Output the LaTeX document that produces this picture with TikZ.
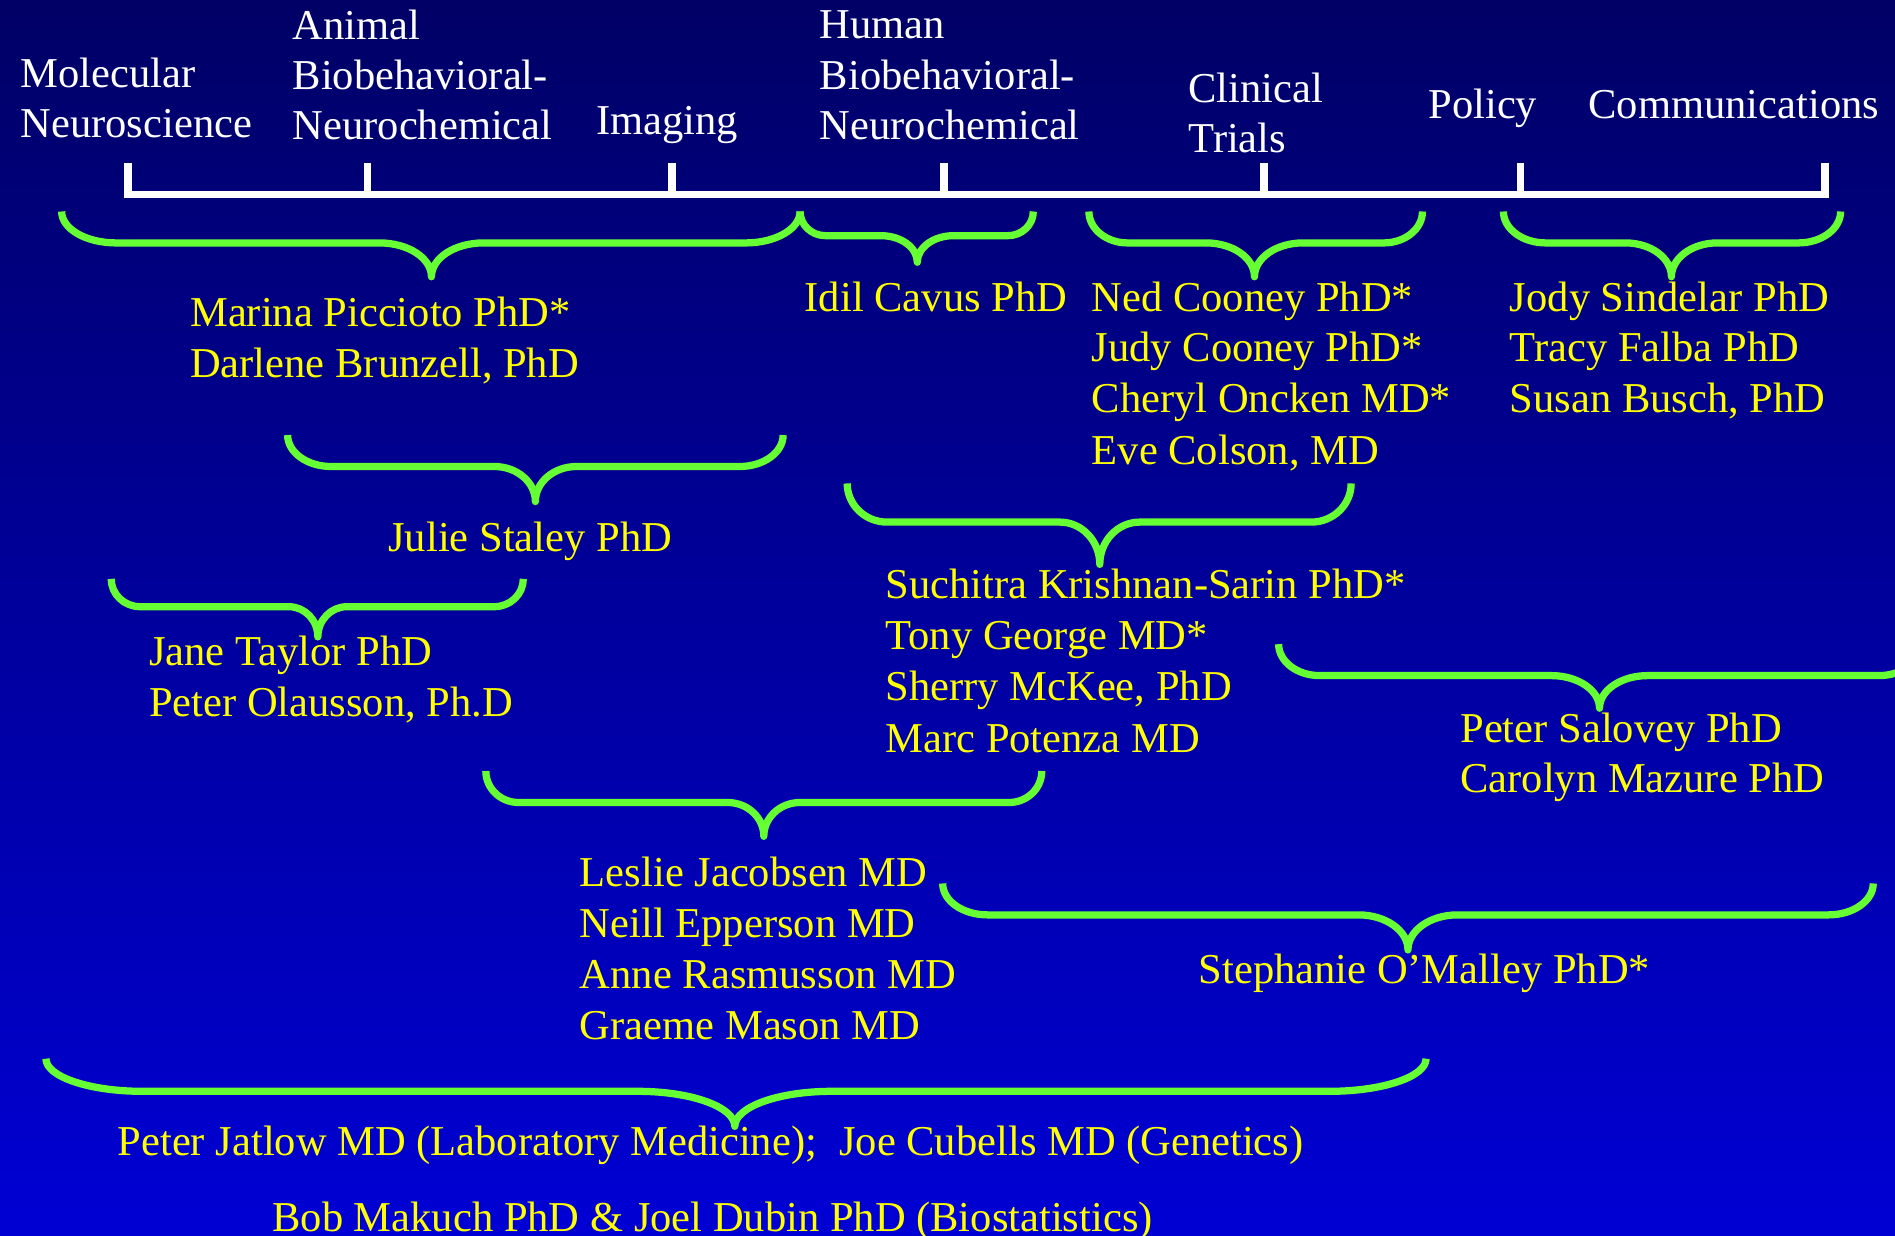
\documentclass[tikz,border=0pt]{standalone}
\usepackage{fontspec}
\setmainfont{Liberation Serif}
\definecolor{bgtop}{RGB}{0,0,102}
\definecolor{bgbot}{RGB}{0,0,212}
\definecolor{gbrc}{RGB}{102,255,51}
\definecolor{ylw}{RGB}{255,255,0}
\newcommand{\gbrace}[8]{%
 \draw[gbr] (#1,#4) .. controls (#1,{#4+0.552*(#5-#4)}) and ({#1+0.448*#7},#5) .. ({#1+#7},#5)
 -- ({#3-#8},#5) .. controls ({#3-0.448*#8},#5) and (#3,{#6-0.552*(#6-#5)}) .. (#3,#6)
 .. controls (#3,{#6-0.552*(#6-#5)}) and ({#3+0.448*#8},#5) .. ({#3+#8},#5)
 -- ({#2-#7},#5) .. controls ({#2-0.448*#7},#5) and (#2,{#4+0.552*(#5-#4)}) .. (#2,#4);}
\tikzset{
 hd/.style={text=white, inner sep=0pt, anchor=base west, yshift=-0.5pt, font=\fontsize{17.6}{21}\selectfont},
 nm/.style={text=ylw, inner sep=0pt, anchor=base west, yshift=-0.5pt, font=\fontsize{17.6}{21}\selectfont},
 gbr/.style={draw=gbrc, line width=3pt, line join=round},
 axisline/.style={draw=white, line width=3.2pt}
}
\begin{document}
\begin{tikzpicture}[x=0.5pt,y=-0.5pt]
\useasboundingbox (0,0) rectangle (1568,1022);
\clip (0,0) rectangle (1568,1022);
\shade[top color=bgtop, bottom color=bgbot] (0,0) rectangle (1568,1022);
% headers
\node[hd] (mol1) at (16.6,71.2) {Molecular};
\node[hd] (mol2) at (16.6,112.5) {Neuroscience};
\node[hd] (ani1) at (241.8,31.7) {Animal};
\node[hd] (ani2) at (241.8,73.1) {Biobehavioral-};
\node[hd] (ani3) at (241.8,114.5) {Neurochemical};
\node[hd] (img) at (493,110.3) {Imaging};
\node[hd] (hum1) at (678,30.9) {Human};
\node[hd] (hum2) at (678,73.1) {Biobehavioral-};
\node[hd] (hum3) at (678,114.5) {Neurochemical};
\node[hd] (cli1) at (983,84.1) {Clinical};
\node[hd] (cli2) at (983,125.5) {Trials};
\node[hd] (pol) at (1181.6,97.1) {Policy};
\node[hd] (com) at (1314,97.1) {Communications};
% axis
\draw[axisline] (106,135) -- (106,161) -- (1510,161) -- (1510,135);
\foreach \tx in {304,556,781,1046,1258} \draw[axisline] (\tx,135) -- (\tx,161);
% braces
\gbrace{51}{662}{357}{175}{201}{229}{45}{43}
\gbrace{662}{855}{759}{175}{195}{217}{21}{30}
\gbrace{901}{1177}{1038}{175}{201}{229}{32}{40}
\gbrace{1244}{1523}{1383}{175}{201}{229}{35}{38}
\gbrace{238}{648}{443}{360}{386}{415}{36}{34}
\gbrace{92}{433}{263}{479}{502}{527}{24}{24}
\gbrace{701}{1118}{910}{400}{432}{467}{33}{33}
\gbrace{1058}{1589}{1323.5}{533}{559}{586}{34}{40}
\gbrace{402}{862}{632}{638}{664}{692}{27}{30}
\gbrace{780}{1550}{1165}{731}{757}{786}{37}{41}
\gbrace{38}{1180}{608}{876}{903}{932}{80}{80}
% names
\node[nm] (n1) at (157,269) {Marina Piccioto PhD*};
\node[nm] (n2) at (157,311.7) {Darlene Brunzell, PhD};
\node[nm] (n3) at (665.5,256.5) {Idil Cavus PhD};
\node[nm] (n4) at (903,256.5) {Ned Cooney PhD*};
\node[nm] (n5) at (903,298.4) {Judy Cooney PhD*};
\node[nm] (n6) at (903,340.6) {Cheryl Oncken MD*};
\node[nm] (n7) at (903,383) {Eve Colson, MD};
\node[nm] (n8) at (1249,256.5) {Jody Sindelar PhD};
\node[nm] (n9) at (1249,298.4) {Tracy Falba PhD};
\node[nm] (n10) at (1249,340.6) {Susan Busch, PhD};
\node[nm] (n11) at (321,455) {Julie Staley PhD};
\node[nm] (n12) at (123,549.4) {Jane Taylor PhD};
\node[nm] (n13) at (123,591.6) {Peter Olausson, Ph.D};
\node[nm] (n14) at (732.4,494.2) {Suchitra Krishnan-Sarin PhD*};
\node[nm] (n15) at (732.4,536.4) {Tony George MD*};
\node[nm] (n16) at (732.4,578.8) {Sherry McKee, PhD};
\node[nm] (n17) at (732.4,621.6) {Marc Potenza MD};
\node[nm] (n18) at (1208,613.6) {Peter Salovey PhD};
\node[nm] (n19) at (1208,655) {Carolyn Mazure PhD};
\node[nm] (n20) at (479.5,732.3) {Leslie Jacobsen MD};
\node[nm] (n21) at (479.5,774.5) {Neill Epperson MD};
\node[nm] (n22) at (479.5,817.2) {Anne Rasmusson MD};
\node[nm] (n23) at (479.5,859) {Graeme Mason MD};
\node[nm] (n24) at (991.4,812.5) {Stephanie O’Malley PhD*};
\node[nm] (n25) at (97,954.8) {Peter Jatlow MD (Laboratory Medicine);\hspace{0.52em}Joe Cubells MD (Genetics)};
\node[nm] (n26) at (225,1017.7) {Bob Makuch PhD \& Joel Dubin PhD (Biostatistics)};
\end{tikzpicture}
\end{document}
